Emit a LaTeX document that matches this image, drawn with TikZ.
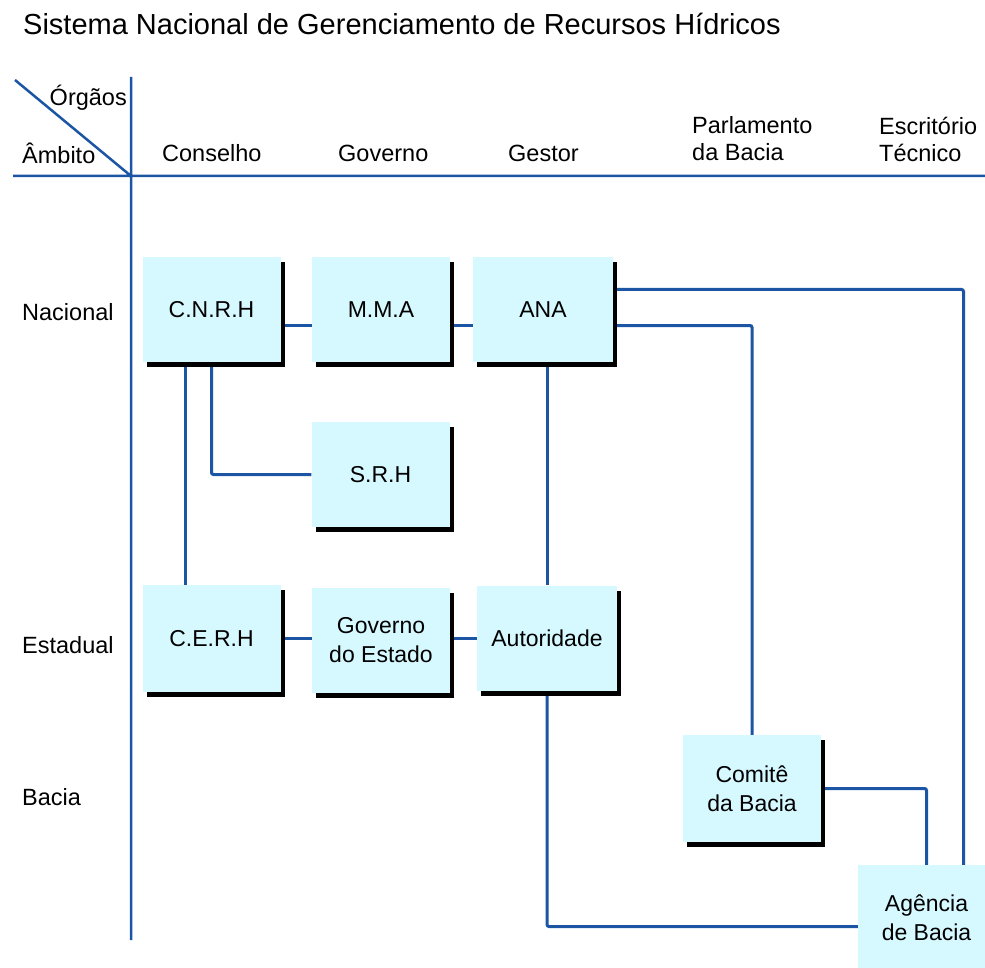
\documentclass[tikz,border=0pt]{standalone}
\usepackage{fontspec}
\setmainfont{Liberation Sans}
\usetikzlibrary{shadows,backgrounds}
\definecolor{azulclaro}{HTML}{D6F8FF}
\definecolor{azullinha}{HTML}{1B55A3}

\begin{document}
\begin{tikzpicture}[x=1pt,y=-1pt,
    caixa/.style={rectangle, fill=azulclaro, minimum width=138pt, minimum height=105pt,
      align=center, inner sep=0pt, font=\fontsize{23}{29}\selectfont},
    orgao/.style={caixa, drop shadow={shadow xshift=4pt, shadow yshift=-5pt, fill=black, opacity=1}},
    rotulo/.style={inner sep=0pt, align=left, font=\fontsize{23.5}{27}\selectfont},
    liga/.style={draw=azullinha, line width=3pt, rounded corners=2pt}]
  \useasboundingbox (0,0) rectangle (985,968);

  % titulo e cabecalho
  \node[rotulo, anchor=west, font=\fontsize{29}{34}\selectfont] (titulo) at (23,24)
    {Sistema Nacional de Gerenciamento de Recursos Hídricos};
  \draw[azullinha, line width=2.5pt]
    (15,80) coordinate (canto) -- (131,176) coordinate (origem)
    (131,77) coordinate (topo) -- (131,940) coordinate (base)
    (13,176) coordinate (esq) -- (985,176) coordinate (dir);
  \node[rotulo, anchor=east] (orgaos) at (127,98) {Órgãos};
  \node[rotulo, anchor=west] (ambito) at (22,153) {Âmbito};
  \node[rotulo, anchor=west] (conselho) at (162,153) {Conselho};
  \node[rotulo, anchor=west] (governo) at (338,153) {Governo};
  \node[rotulo, anchor=west] (gestor) at (508,153) {Gestor};
  \node[rotulo, anchor=west] (parlamento) at (692,139) {Parlamento\\da Bacia};
  \node[rotulo, anchor=west] (escritorio) at (879,139) {Escritório\\Técnico};

  % ambitos
  \node[rotulo, anchor=west] (nacional) at (22,312) {Nacional};
  \node[rotulo, anchor=west] (estadual) at (22,645) {Estadual};
  \node[rotulo, anchor=west] (bacia) at (22,797) {Bacia};

  % orgaos
  \node[orgao] (cnrh) at (211.5,309.5) {C.N.R.H};
  \node[orgao] (mma) at (381,309.5) {M.M.A};
  \node[orgao, minimum width=140pt] (ana) at (543,309.5) {ANA};
  \node[orgao] (srh) at (380.5,474.5) {S.R.H};
  \node[orgao, minimum height=107pt] (cerh) at (211.5,638.5) {C.E.R.H};
  \node[orgao] (gestado) at (381,640) {Governo\\do Estado};
  \node[orgao, minimum width=140pt] (autoridade) at (547,638) {Autoridade};
  \node[orgao, minimum height=107pt] (comite) at (752,788.5) {Comitê\\da Bacia};
  \node[caixa, minimum width=137pt] (agencia) at (926.5,917.5) {Agência\\de Bacia};

  \begin{pgfonlayer}{background}
  \begin{scope}[liga]
    \draw ([yshift=-16pt]cnrh.east) -- ([yshift=-16pt]mma.west);
    \draw ([yshift=-16pt]mma.east) -- ([yshift=-16pt]ana.west);
    \draw ([xshift=-26pt]cnrh.south) -- ([xshift=-26pt]cerh.north);
    \draw (cnrh.south) |- (srh.west);
    \draw (cerh.east) -- (cerh.east -| gestado.west);
    \draw (autoridade.west -| gestado.east) -- (autoridade.west);
    \draw (autoridade.north) -- (autoridade.north |- ana.south);
    \draw ([yshift=20pt]ana.east) -| ([xshift=37pt]agencia.north);
    \draw ([yshift=-16pt]ana.east) -| (comite.north);
    \draw (comite.east) -| (agencia.north);
    \draw (autoridade.south) |- ([yshift=-9pt]agencia.west);
  \end{scope}
  \end{pgfonlayer}
\end{tikzpicture}
\end{document}
